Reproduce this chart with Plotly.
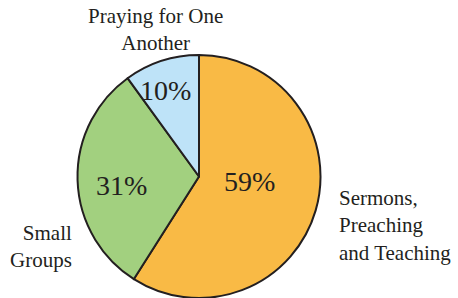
import plotly.graph_objects as go

labels = ["Sermons, Preaching and Teaching", "Small Groups", "Praying for One Another"]
values = [59, 31, 10]
colors = ["#F9BA45", "#A2D07F", "#BEE3F8"]
outside_labels = ["Sermons,<br>Preaching<br>and Teaching", "Small<br>Groups", "Praying for One<br>Another"]

W, H = 458, 298
cx, cy, r = 199, 177, 122

fig = go.Figure(go.Pie(
    labels=labels,
    values=values,
    sort=False,
    direction="clockwise",
    rotation=0,
    marker=dict(colors=colors, line=dict(color="#231F20", width=2)),
    textinfo="none",
    hoverinfo="skip",
    showlegend=False,
    domain=dict(x=[(cx - r) / W, (cx + r) / W], y=[max(0, 1 - (cy + r) / H), 1 - (cy - r) / H]),
))

total = sum(values)
pct_pos = [(249, 181), (121, 185), (165, 91)]
for v, (px, py) in zip(values, pct_pos):
    fig.add_annotation(xref="paper", yref="paper", x=px / W, y=1 - py / H,
                       text=f"{round(100 * v / total)}%", showarrow=False,
                       xanchor="center", yanchor="middle",
                       font=dict(family="Liberation Serif", size=28, color="#231F20"))

annos = [
    dict(text=outside_labels[0], x=337 / W, y=1 - 225 / H, xanchor="left", align="left"),
    dict(text=outside_labels[1], x=74 / W, y=1 - 246 / H, xanchor="right", align="right"),
    dict(text=outside_labels[2], x=155 / W, y=1 - 30 / H, xanchor="center", align="center"),
]
for a in annos:
    fig.add_annotation(xref="paper", yref="paper", yanchor="middle", showarrow=False,
                       font=dict(family="Liberation Serif", size=21, color="#231F20"), **a)

fig.update_layout(width=W, height=H, margin=dict(l=0, r=0, t=0, b=0),
                  paper_bgcolor="white", plot_bgcolor="white")
fig.write_html("out.html", config={"displayModeBar": False},
               post_script="document.body.style.margin='0';")
